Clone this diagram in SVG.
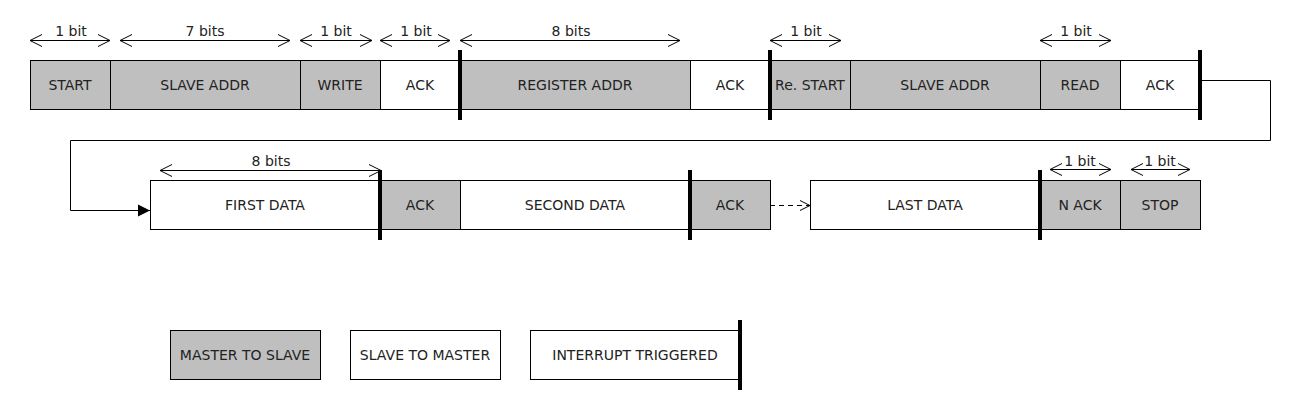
<svg xmlns="http://www.w3.org/2000/svg" width="1310" height="410" viewBox="0 0 1310 410">
<style>
text{font-family:"DejaVu Sans","Liberation Sans",sans-serif;font-size:14px;fill:#222;text-anchor:middle}
.m{fill:#bfbfbf;stroke:#000;stroke-width:1}
.s{fill:#fff;stroke:#000;stroke-width:1}
.bar{fill:#000}
.dim{stroke:#000;stroke-width:1;fill:none;marker-start:url(#open);marker-end:url(#open)}
.ln{stroke:#000;stroke-width:1;fill:none}
</style>
<defs>
<marker id="open" markerUnits="userSpaceOnUse" markerWidth="14" markerHeight="14" refX="12" refY="6" orient="auto-start-reverse" viewBox="0 0 14 12">
<path d="M0,0 L12,6 L0,12" fill="none" stroke="#000" stroke-width="1"/>
</marker>
<marker id="fill" markerUnits="userSpaceOnUse" markerWidth="14" markerHeight="14" refX="12" refY="6" orient="auto" viewBox="0 0 14 12">
<path d="M0,0 L12,6 L0,12 Z" fill="#000"/>
</marker>
<marker id="open2" markerUnits="userSpaceOnUse" markerWidth="12" markerHeight="12" refX="10" refY="5" orient="auto" viewBox="0 0 12 10">
<path d="M0,0 L10,5 L0,10" fill="none" stroke="#000" stroke-width="1"/>
</marker>
</defs>
<rect width="1310" height="410" fill="#fff"/>

<g id="row1">
<g id="start"><rect class="m" x="30.5" y="60.5" width="80" height="49"/><text x="70" y="90">START</text></g>
<g id="slave-addr-1"><rect class="m" x="110.5" y="60.5" width="190" height="49"/><text x="205" y="90">SLAVE ADDR</text></g>
<g id="write"><rect class="m" x="300.5" y="60.5" width="80" height="49"/><text x="340" y="90">WRITE</text></g>
<g id="ack-1"><rect class="s" x="380.5" y="60.5" width="80" height="49"/><text x="420" y="90">ACK</text></g>
<g id="register-addr"><rect class="m" x="460.5" y="60.5" width="230" height="49"/><text x="575" y="90">REGISTER ADDR</text></g>
<g id="ack-2"><rect class="s" x="690.5" y="60.5" width="80" height="49"/><text x="730" y="90">ACK</text></g>
<g id="re-start"><rect class="m" x="770.5" y="60.5" width="80" height="49"/><text x="810" y="90">Re. START</text></g>
<g id="slave-addr-2"><rect class="m" x="850.5" y="60.5" width="190" height="49"/><text x="945" y="90">SLAVE ADDR</text></g>
<g id="read"><rect class="m" x="1040.5" y="60.5" width="80" height="49"/><text x="1080" y="90">READ</text></g>
<g id="ack-3"><rect class="s" x="1120.5" y="60.5" width="80" height="49"/><text x="1160" y="90">ACK</text></g>
<rect class="bar" x="458" y="50" width="4" height="70"/>
<rect class="bar" x="768" y="50" width="4" height="70"/>
<rect class="bar" x="1198" y="50" width="4" height="70"/>
</g>

<g id="row2">
<g id="first-data"><rect class="s" x="150.5" y="180.5" width="230" height="49"/><text x="265" y="210">FIRST DATA</text></g>
<g id="ack-4"><rect class="m" x="380.5" y="180.5" width="80" height="49"/><text x="420" y="210">ACK</text></g>
<g id="second-data"><rect class="s" x="460.5" y="180.5" width="230" height="49"/><text x="575" y="210">SECOND DATA</text></g>
<g id="ack-5"><rect class="m" x="690.5" y="180.5" width="80" height="49"/><text x="730" y="210">ACK</text></g>
<g id="last-data"><rect class="s" x="810.5" y="180.5" width="230" height="49"/><text x="925" y="210">LAST DATA</text></g>
<g id="n-ack"><rect class="m" x="1040.5" y="180.5" width="80" height="49"/><text x="1080" y="210">N ACK</text></g>
<g id="stop"><rect class="m" x="1120.5" y="180.5" width="80" height="49"/><text x="1160" y="210">STOP</text></g>
<rect class="bar" x="378" y="170" width="4" height="70"/>
<rect class="bar" x="688" y="170" width="4" height="70"/>
<rect class="bar" x="1038" y="170" width="4" height="70"/>
</g>

<g id="dimensions">
<path class="dim" d="M30,40.5 H110"/><text x="71" y="36">1 bit</text>
<path class="dim" d="M120,40.5 H290"/><text x="205" y="36">7 bits</text>
<path class="dim" d="M300,40.5 H372"/><text x="336" y="36">1 bit</text>
<path class="dim" d="M380,40.5 H450"/><text x="416" y="36">1 bit</text>
<path class="dim" d="M460,40.5 H680"/><text x="571" y="36">8 bits</text>
<path class="dim" d="M770,40.5 H841"/><text x="806" y="36">1 bit</text>
<path class="dim" d="M1040,40.5 H1111"/><text x="1076" y="36">1 bit</text>
<path class="dim" d="M160,170.5 H381"/><text x="271" y="166">8 bits</text>
<path class="dim" d="M1050,169.5 H1111"/><text x="1080" y="166">1 bit</text>
<path class="dim" d="M1131,169.5 H1190"/><text x="1160" y="166">1 bit</text>
</g>

<g id="connectors">
<path class="ln" d="M1202,80.5 H1270.5 V140.5 H70.5 V210.5 H150" marker-end="url(#fill)"/>
<path class="ln" d="M770,205.5 H810" stroke-dasharray="5,4" marker-end="url(#open2)"/>
</g>

<g id="legend">
<g id="legend-master"><rect class="m" x="170.5" y="330.5" width="150" height="49"/><text x="245" y="360">MASTER TO SLAVE</text></g>
<g id="legend-slave"><rect class="s" x="350.5" y="330.5" width="150" height="49"/><text x="425" y="360">SLAVE TO MASTER</text></g>
<g id="legend-interrupt"><rect class="s" x="530.5" y="330.5" width="210" height="49"/><text x="635" y="360">INTERRUPT TRIGGERED</text><rect class="bar" x="738" y="320" width="4" height="70"/></g>
</g>
</svg>
